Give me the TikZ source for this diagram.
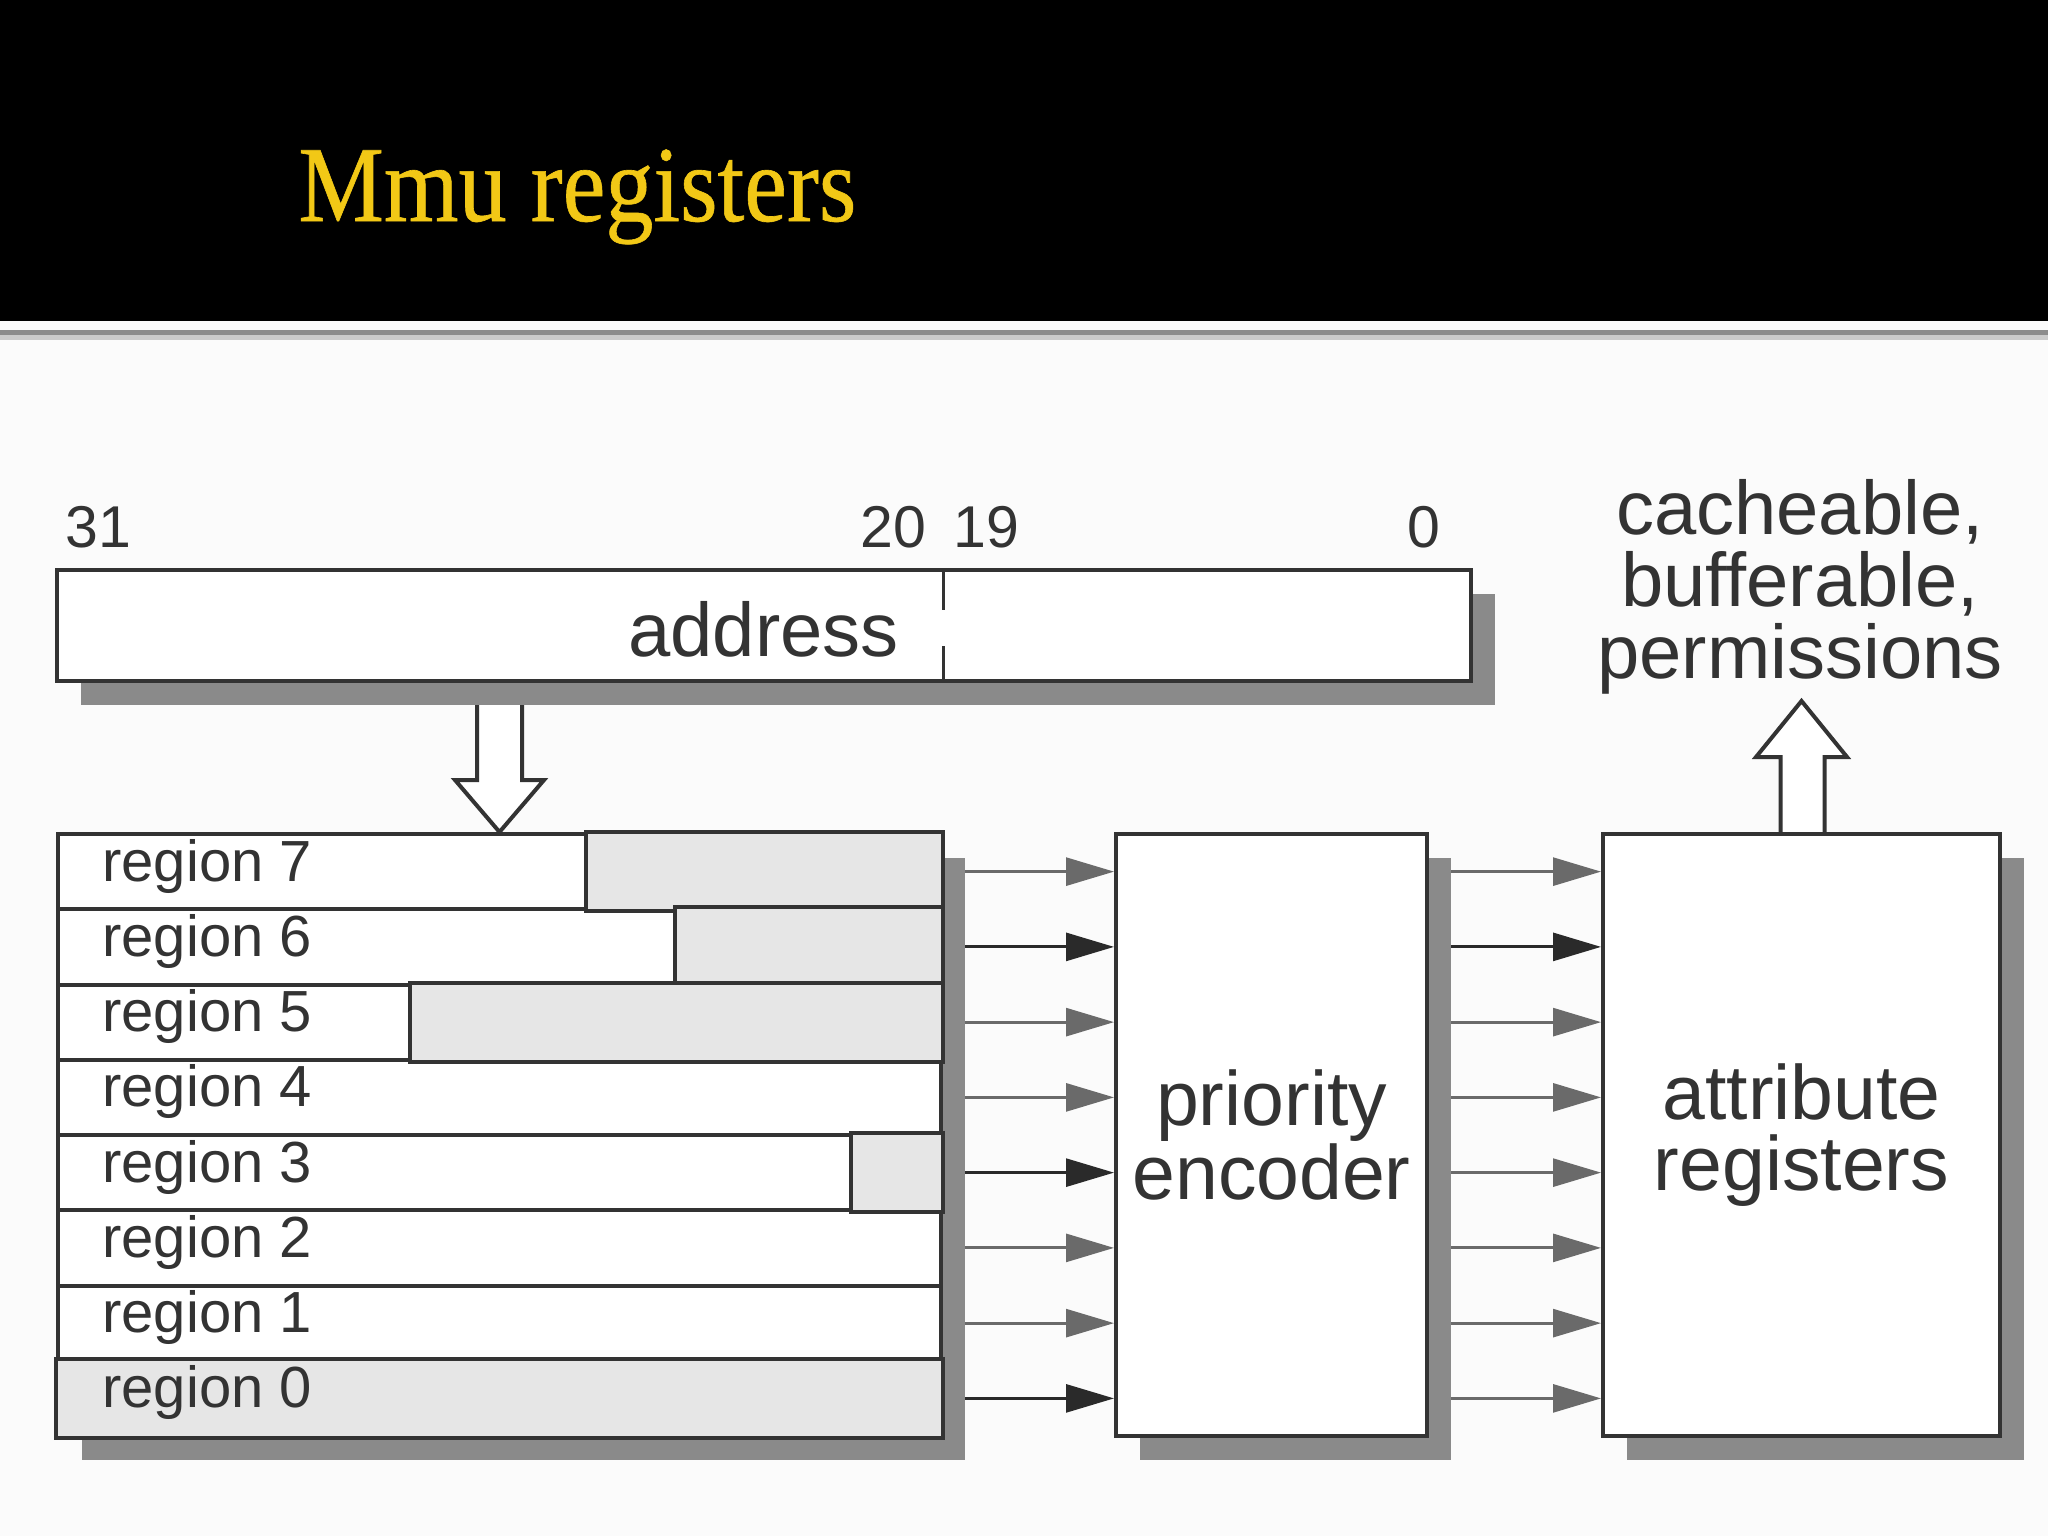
\documentclass[tikz,border=0pt]{standalone}
\usepackage{fontspec}
\newfontfamily\hv{Liberation Sans}
\newfontfamily\titlefont[FakeBold=0.6]{Liberation Serif}
\usetikzlibrary{arrows.meta,calc,shadows}
\definecolor{linec}{HTML}{333333}
\definecolor{textc}{HTML}{333333}
\definecolor{shadowc}{HTML}{8A8A8A}
\definecolor{shadec}{HTML}{E6E6E6}
\definecolor{arrc}{HTML}{6A6A6A}
\definecolor{arrd}{HTML}{2A2A2A}
\definecolor{titlec}{RGB}{242,200,22}
\definecolor{pagec}{HTML}{FBFBFB}
\definecolor{rulec}{HTML}{8C8C8C}
\pgfdeclarelayer{back}
\pgfdeclarelayer{bg}
\pgfsetlayers{back,bg,main}
\begin{document}
\begin{tikzpicture}[x=0.5pt,y=-0.5pt,
  boxst/.style={draw=linec, line width=2pt, fill=white, inner sep=0pt, anchor=north west},
  shad/.style={drop shadow={shadow xshift=12pt, shadow yshift=-12pt, fill=shadowc, opacity=1}},
  rowst/.style={boxst, minimum width=441.5pt, minimum height=37.625pt},
  shadest/.style={fill=shadec, draw=linec, line width=2pt},
  lbl/.style={font=\hv\fontsize{29pt}{34pt}\selectfont, text=textc, inner sep=0pt, anchor=base west},
  numst/.style={font=\hv\fontsize{29.5pt}{34pt}\selectfont, text=textc, inner sep=0pt},
  bigtxt/.style={font=\hv\fontsize{38.5pt}{35.5pt}\selectfont, text=textc, align=center},
  conn/.style={line width=1.4pt, -{Triangle[length=24pt,width=14pt]}},
  hollow/.style={draw=linec, line width=2pt, fill=white, line join=miter}
]
\useasboundingbox (0,0) rectangle (2048,1536);
\begin{pgfonlayer}{back}
  \fill[pagec] (0,0) rectangle (2048,1536);
  \fill[black] (0,0) rectangle (2048,321);
  \fill[rulec!45] (0,335) rectangle (2048,340);
  \fill[rulec] (0,330) rectangle (2048,335);
\end{pgfonlayer}

% title
\node[anchor=base west, inner sep=0pt, text=titlec, font=\titlefont\fontsize{54pt}{60pt}\selectfont] (title) at (298,221) {\scalebox{0.89}[1]{Mmu registers}};

% address register
\node[boxst, shad, minimum width=707pt, minimum height=55.5pt] (addr) at (55,568) {};
\node[font=\hv\fontsize{38pt}{40pt}\selectfont, text=textc, inner sep=0pt, anchor=base east] (addrlbl) at (899,656) {address};
\node[numst, anchor=base west] (n31) at (65,547) {31};
\node[numst, anchor=base east] (n20) at (927,547) {20};
\node[numst, anchor=base west] (n19) at (953,547) {19};
\node[numst, anchor=base] (n0) at (1424,547) {0};

% region registers
\node[boxst, shad, minimum width=441.5pt, minimum height=301pt] (regs) at (56,832) {};
\foreach \k [count=\i from 0] in {7,6,5,4,3,2,1,0} {
  \node[rowst] (r\k) at (56,{832+75.25*\i}) {};
}
\filldraw[shadest] ($(r7.north west)+(530,0)$) rectangle (r7.south east);
\filldraw[shadest] ($(r6.north west)+(619,0)$) rectangle (r6.south east);
\filldraw[shadest] ($(r5.north west)+(354,0)$) rectangle (r5.south east);
\filldraw[shadest] ($(r3.north west)+(795,0)$) rectangle (r3.south east);
\filldraw[shadest] (r0.north west) rectangle (r0.south east);
\foreach \k in {7,6,5,4,3,2,1,0} {
  \node[lbl] (l\k) at ($(r\k.north west)+(46,49)$) {region \k};
}

% divider in address
\draw[linec, line width=1.5pt] (regs.north east |- addr.north) -- ++(0,42)
  ($(regs.north east |- addr.south)+(0,-37)$) -- (regs.north east |- addr.south);

% priority encoder and attribute registers
\node[boxst, shad, minimum width=155.5pt, minimum height=301pt, bigtxt] (enc) at (1114,832) {priority\\encoder};
\node[boxst, shad, minimum width=198.5pt, minimum height=301pt, bigtxt] (attr) at (1601,832) {attribute\\registers};

% output label
\node[font=\hv\fontsize{38pt}{36pt}\selectfont, text=textc, align=center, inner sep=0pt] (outlbl) at (1800,587) {cacheable,\\bufferable,\\permissions};

\begin{pgfonlayer}{bg}
  \foreach \k/\cl/\cr in {7/arrc/arrc,6/arrd/arrd,5/arrc/arrc,4/arrc/arrc,3/arrd/arrc,2/arrc/arrc,1/arrc/arrc,0/arrd/arrc} {
    \draw[conn, draw=\cl] (r\k.east) -- (r\k.east -| enc.west);
    \draw[conn, draw=\cr] (r\k.east -| enc.east) -- (r\k.east -| attr.west);
  }
  % hollow arrow down from address into regions
  \draw[hollow] ($(regs.north |- addr.south)+(-22.5,0)$) -- ($(regs.north)+(-22.5,-52)$)
    -- ($(regs.north)+(-44.5,-52)$) -- (regs.north) -- ($(regs.north)+(44.5,-52)$)
    -- ($(regs.north)+(22.5,-52)$) -- ($(regs.north |- addr.south)+(22.5,0)$);
  % hollow arrow up from attribute registers
  \draw[hollow] ($(attr.north)+(-21,0)$) -- ($(attr.north)+(-21,-75)$)
    -- ($(attr.north)+(-45.5,-75)$) -- ($(attr.north)+(0,-131)$) -- ($(attr.north)+(45.5,-75)$)
    -- ($(attr.north)+(23,-75)$) -- ($(attr.north)+(23,0)$);
\end{pgfonlayer}
\end{tikzpicture}
\end{document}
